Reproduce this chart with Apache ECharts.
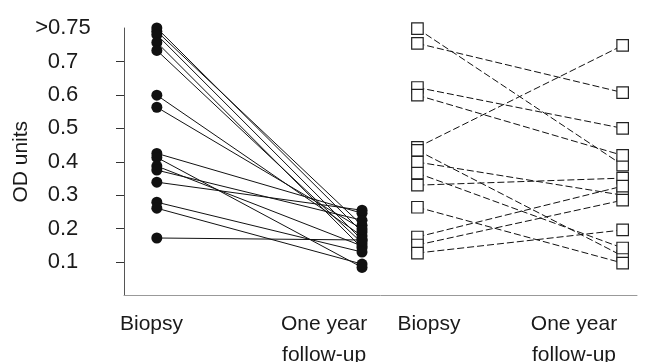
<!DOCTYPE html>
<html>
<head>
<meta charset="utf-8">
<script src="https://cdn.jsdelivr.net/npm/echarts@6/dist/echarts.min.js"></script>
<style>
  html, body { margin: 0; padding: 0; background: #fff; }
  #chart { width: 648px; height: 362px; }
</style>
</head>
<body>
<div id="chart"></div>
<script>
// x position (axis units) of each column: biopsy / follow-up, group 1 and group 2
var groupX = [0.16, 1.16, 1.43, 2.43];

// filled circles, solid lines
var solidBiopsy   = [0.80, 0.79, 0.78, 0.757, 0.733, 0.599, 0.563, 0.425, 0.413, 0.387, 0.375, 0.339, 0.279, 0.261, 0.172];
var solidFollowUp = [0.19, 0.21, 0.166, 0.142, 0.157, 0.178, 0.199, 0.246, 0.084, 0.148, 0.225, 0.255, 0.13, 0.094, 0.166];

// open squares, dashed lines
var dashBiopsy   = [0.798, 0.754, 0.622, 0.599, 0.443, 0.434, 0.399, 0.366, 0.33, 0.264, 0.175, 0.151, 0.127];
var dashFollowUp = [0.39, 0.607, 0.50, 0.419, 0.748, 0.118, 0.30, 0.142, 0.351, 0.097, 0.327, 0.285, 0.196];

var xLabelValues = [0.134, 0.975, 1.486, 2.193];
var xLabels = ['Biopsy', 'One year\nfollow-up', 'Biopsy', 'One year\nfollow-up'];
var yTicks = [0.1, 0.2, 0.3, 0.4, 0.5, 0.6, 0.7];
var yLabelValues = [0.1, 0.2, 0.3, 0.4, 0.5, 0.6, 0.7, 0.8];

var series = [];
solidBiopsy.forEach(function (v, i) {
    series.push({
        type: 'line', silent: true, symbol: 'none', z: 2,
        lineStyle: { color: '#111', width: 1 },
        data: [[groupX[0], v], [groupX[1], solidFollowUp[i]]]
    });
});
dashBiopsy.forEach(function (v, i) {
    series.push({
        type: 'line', silent: true, symbol: 'none', z: 2,
        lineStyle: { color: '#111', width: 1, type: [7, 3] },
        data: [[groupX[2], v], [groupX[3], dashFollowUp[i]]]
    });
});
series.push({
    type: 'scatter', symbol: 'circle', symbolSize: 11, z: 5,
    itemStyle: { color: '#111', opacity: 1 },
    data: solidBiopsy.map(function (v) { return [groupX[0], v]; })
        .concat(solidFollowUp.map(function (v) { return [groupX[1], v]; }))
});
series.push({
    type: 'scatter', symbol: 'rect', symbolSize: 11.5, z: 5,
    itemStyle: { color: '#fff', borderColor: '#222', borderWidth: 1.2, opacity: 1 },
    data: dashBiopsy.map(function (v) { return [groupX[2], v]; })
        .concat(dashFollowUp.map(function (v) { return [groupX[3], v]; }))
});

var option = {
    animation: false,
    backgroundColor: '#fff',
    textStyle: { fontFamily: 'Liberation Sans, Arial, sans-serif' },
    grid: { left: 124, right: 11, top: 28, bottom: 66.5, outerBoundsMode: 'none', containLabel: false },
    xAxis: {
        type: 'value', min: 0, max: 2.5,
        splitLine: { show: false },
        axisLine: { lineStyle: { color: '#999', width: 1 } },
        axisTick: { show: false },
        axisLabel: {
            customValues: xLabelValues,
            margin: 13,
            fontSize: 21,
            lineHeight: 31,
            color: '#1a1a1a',
            align: 'center',
            formatter: function (v) {
                var best = 0;
                xLabelValues.forEach(function (p, i) {
                    if (Math.abs(p - v) < Math.abs(xLabelValues[best] - v)) best = i;
                });
                return xLabels[best];
            }
        }
    },
    yAxis: {
        type: 'value', min: 0, max: 0.8, interval: 0.1,
        name: 'OD units',
        nameLocation: 'middle',
        nameRotate: 90,
        nameGap: 92,
        nameMoveOverlap: false,
        nameTextStyle: { fontSize: 21, color: '#1a1a1a' },
        splitLine: { show: false },
        axisLine: { show: true, lineStyle: { color: '#555', width: 1 } },
        axisTick: { show: true, length: 8, customValues: yTicks, lineStyle: { color: '#333' } },
        axisLabel: {
            customValues: yLabelValues,
            margin: 61,
            align: 'center',
            fontSize: 22,
            color: '#1a1a1a',
            formatter: function (v) {
                if (v > 0.75) return '>0.75';
                return (Math.round(v * 10) / 10).toFixed(1);
            }
        }
    },
    series: series
};

var chart = echarts.init(document.getElementById('chart'), null, { renderer: 'canvas' });
chart.setOption(option);
</script>
</body>
</html>
